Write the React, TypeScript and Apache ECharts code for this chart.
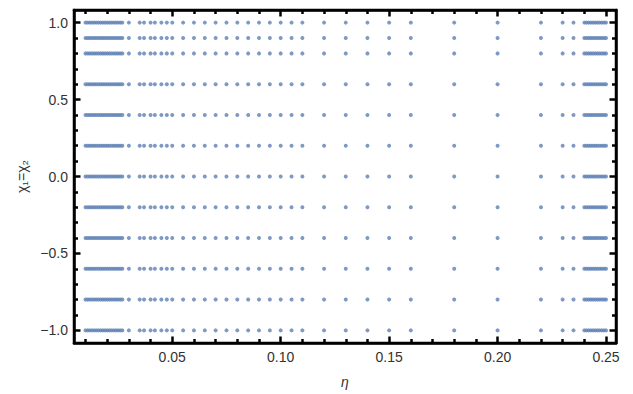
import React, { useEffect, useRef } from "react";
import * as echarts from "echarts";

const etaValues: number[] = [
  0.010, 0.011, 0.012, 0.013, 0.014, 0.015, 0.016, 0.017, 0.018, 0.019,
  0.020, 0.021, 0.022, 0.023, 0.024, 0.025, 0.026, 0.027,
  0.030, 0.035, 0.037, 0.040, 0.042, 0.045, 0.0475, 0.050,
  0.055, 0.060, 0.065, 0.070, 0.075, 0.080, 0.085, 0.090, 0.095, 0.100, 0.105, 0.110,
  0.120, 0.130, 0.140, 0.150, 0.160, 0.180, 0.200, 0.220, 0.230, 0.235,
  0.240, 0.241, 0.242, 0.243, 0.244, 0.245, 0.246, 0.247, 0.248, 0.249, 0.250,
];

const chiValues: number[] = [-1.0, -0.8, -0.6, -0.4, -0.2, 0.0, 0.2, 0.4, 0.6, 0.8, 0.9, 1.0];

const xMajorTicks: number[] = [0.05, 0.1, 0.15, 0.2, 0.25];
const xMinorTicks: number[] = [
  0.01, 0.02, 0.03, 0.04, 0.06, 0.07, 0.08, 0.09, 0.11, 0.12, 0.13, 0.14,
  0.16, 0.17, 0.18, 0.19, 0.21, 0.22, 0.23, 0.24,
];
const yMajorTicks: number[] = [-1, -0.5, 0, 0.5, 1];
const yMinorTicks: number[] = [-0.9, -0.8, -0.7, -0.6, -0.4, -0.3, -0.2, -0.1, 0.1, 0.2, 0.3, 0.4, 0.6, 0.7, 0.8, 0.9];

const X_MIN = 0.0047;
const X_MAX = 0.2546;
const Y_MIN = -1.082;
const Y_MAX = 1.082;

const FONT = "Liberation Sans, Arial, sans-serif";
const LABEL_COLOR = "#333333";
const FRAME = "#000000";

export default function App() {
  const ref = useRef<HTMLDivElement>(null);
  useEffect(() => {
    if (!ref.current) return;
    const chart = echarts.init(ref.current, undefined, { renderer: "svg" });
    const data: number[][] = [];
    for (const y of chiValues) for (const x of etaValues) data.push([x, y]);

    const fmtX = (v: number) => v.toFixed(2);
    const fmtY = (v: number) => v.toFixed(1).replace("-", "\u2212");

    const xAxisBase = (pos: "bottom" | "top", major: boolean, showLabels: boolean, showLine: boolean, name?: string) => ({
      type: "value",
      position: pos,
      min: X_MIN,
      max: X_MAX,
      name: name,
      nameLocation: "middle",
      nameGap: 32,
      nameTextStyle: { fontFamily: FONT, fontSize: 14, color: LABEL_COLOR, fontStyle: "italic" },
      splitLine: { show: false },
      axisLine: { show: showLine, onZero: false, lineStyle: { color: FRAME, width: 2.5 } },
      axisTick: {
        show: true,
        inside: true,
        length: major ? 6.5 : 4,
        customValues: major ? xMajorTicks : xMinorTicks,
        lineStyle: { color: FRAME, width: 2.5 },
      },
      axisLabel: {
        show: showLabels,
        customValues: xMajorTicks,
        formatter: fmtX,
        fontFamily: FONT,
        fontSize: 14,
        color: LABEL_COLOR,
        margin: 7,
      },
    });

    const yAxisBase = (pos: "left" | "right", major: boolean, showLabels: boolean, showLine: boolean, name?: string) => ({
      type: "value",
      position: pos,
      min: Y_MIN,
      max: Y_MAX,
      name: name,
      nameLocation: "middle",
      nameGap: 44,
      nameRotate: 90,
      nameTextStyle: { fontFamily: FONT, fontSize: 14, color: LABEL_COLOR },
      splitLine: { show: false },
      axisLine: { show: showLine, onZero: false, lineStyle: { color: FRAME, width: 2.5 } },
      axisTick: {
        show: true,
        inside: true,
        length: major ? 6.5 : 4,
        customValues: major ? yMajorTicks : yMinorTicks,
        lineStyle: { color: FRAME, width: 2.5 },
      },
      axisLabel: {
        show: showLabels,
        customValues: yMajorTicks,
        formatter: fmtY,
        fontFamily: FONT,
        fontSize: 14,
        color: LABEL_COLOR,
        margin: 6,
      },
    });

    chart.setOption({
      animation: false,
      backgroundColor: "#fff",
      grid: {
        left: 74,
        right: 17,
        top: 10,
        bottom: 48,
        show: true,
        borderColor: FRAME,
        borderWidth: 2.5,
        backgroundColor: "transparent",
      },
      xAxis: [
        xAxisBase("bottom", true, true, true, "\u03b7"),
        xAxisBase("bottom", false, false, false),
        xAxisBase("top", true, false, true),
        xAxisBase("top", false, false, false),
      ],
      yAxis: [
        yAxisBase("left", true, true, true, "\u03c7\u2081=\u03c7\u2082"),
        yAxisBase("left", false, false, false),
        yAxisBase("right", true, false, true),
        yAxisBase("right", false, false, false),
      ],
      series: [
        {
          type: "scatter",
          xAxisIndex: 0,
          yAxisIndex: 0,
          data,
          symbol: "circle",
          symbolSize: 4,
          itemStyle: { color: "rgb(94,129,181)" },
          silent: true,
        },
      ],
    });
    return () => chart.dispose();
  }, []);
  return (
    <div
      ref={ref}
      style={{ position: "fixed", left: 0, top: 0, width: 633, height: 394, background: "#fff" }}
    />
  );
}
